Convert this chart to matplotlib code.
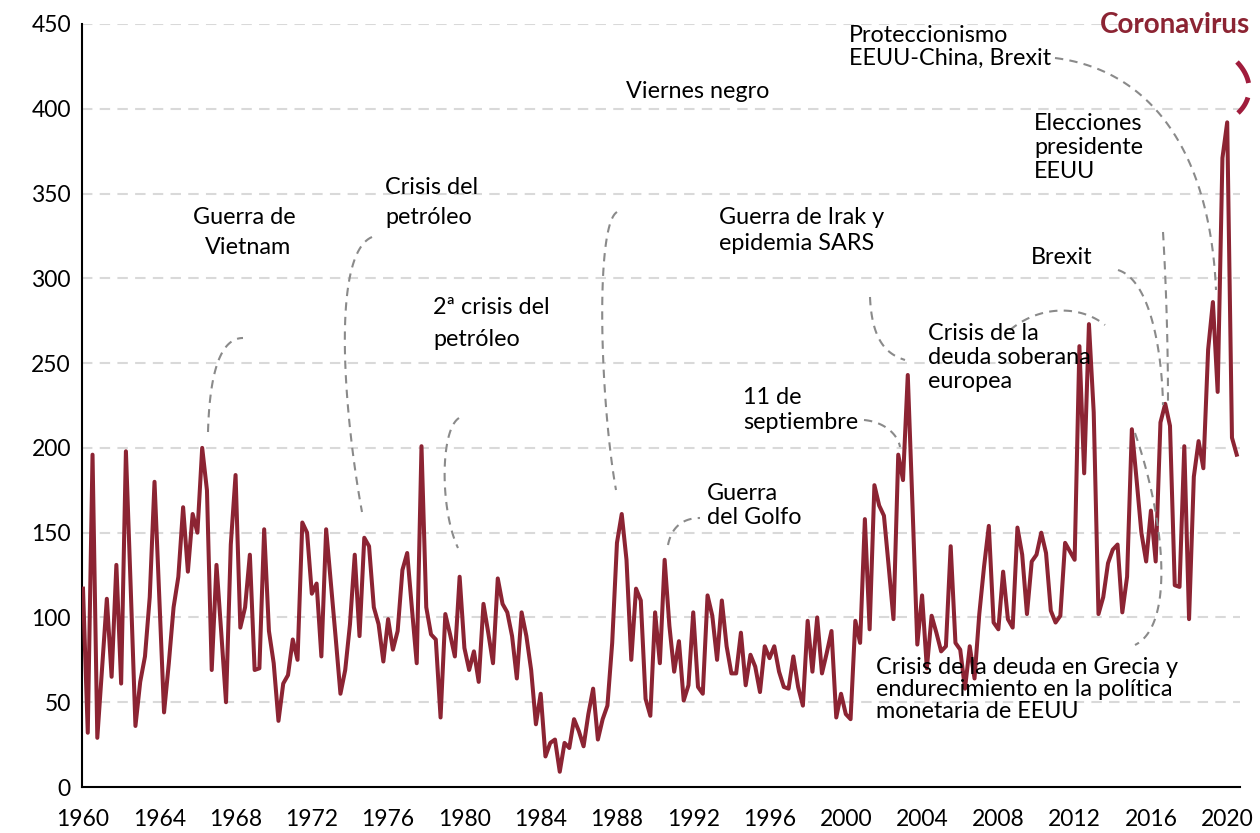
import numpy as np
import matplotlib.pyplot as plt
from matplotlib.lines import Line2D

# quarterly index values, 1960Q1 .. 2020Q3
values = [
    117, 32, 196, 29, 70, 111, 65, 131, 61, 198, 118, 36, 62, 77, 112, 180,
    112, 44, 73, 106, 124, 165, 127, 161, 150, 200, 175, 69, 131, 91, 50, 143,
    184, 94, 106, 137, 69, 70, 152, 92, 73, 39, 61, 66, 87, 75, 156, 150,
    114, 120, 77, 152, 120, 88, 55, 69, 96, 137, 89, 147, 142, 106, 96, 74,
    99, 81, 92, 128, 138, 105, 73, 201, 106, 90, 87, 41, 102, 90, 77, 124,
    82, 69, 80, 62, 108, 91, 73, 123, 108, 103, 89, 64, 103, 89, 69, 37,
    55, 18, 26, 28, 9, 26, 23, 40, 33, 24, 43, 58, 28, 40, 48, 85,
    144, 161, 134, 75, 117, 110, 52, 42, 103, 73, 134, 95, 68, 86, 51, 60,
    103, 59, 55, 113, 101, 75, 110, 83, 67, 67, 91, 60, 78, 71, 56, 83,
    76, 83, 68, 59, 58, 77, 59, 48, 98, 68, 100, 67, 79, 92, 41, 55,
    43, 40, 98, 85, 158, 93, 178, 166, 160, 130, 99, 196, 181, 243, 165, 84,
    113, 70, 101, 91, 80, 83, 142, 85, 81, 58, 83, 64, 102, 130, 154, 97,
    93, 127, 99, 94, 153, 137, 102, 133, 137, 150, 138, 104, 97, 101, 144, 139,
    134, 260, 185, 273, 221, 102, 112, 132, 140, 143, 103, 124, 211, 181, 150, 133,
    163, 133, 215, 226, 213, 119, 118, 201, 99, 183, 204, 188, 258, 286, 233, 371,
    392, 206, 196,
]
years = 1960 + np.arange(len(values)) / 4

y_ticks = list(range(0, 451, 50))
x_ticks = list(range(1960, 2021, 4))

# annotation text lines: (text, left px, centre y px)
labels = [
    ("Guerra de", 193, 218), ("Vietnam", 205, 248),
    ("Crisis del", 385, 188), ("petróleo", 385, 217),
    ("2ª crisis del", 433, 307), ("petróleo", 433, 340),
    ("Viernes negro", 626, 92),
    ("Guerra", 707, 493), ("del Golfo", 707, 517),
    ("Guerra de Irak y", 719, 217), ("epidemia SARS", 719, 243),
    ("11 de", 743, 397), ("septiembre", 743, 422),
    ("Crisis de la", 928, 333), ("deuda soberana", 928, 357), ("europea", 928, 381),
    ("Brexit", 1031, 257),
    ("Elecciones", 1034, 124), ("presidente", 1034, 147), ("EEUU", 1034, 171),
    ("Crisis de la deuda en Grecia y", 876, 668),
    ("endurecimiento en la política", 876, 690),
    ("monetaria de EEUU", 876, 712),
    ("Proteccionismo", 849, 35), ("EEUU-China, Brexit", 849, 58),
]

# connector curves (cubic bezier control points in px)
connectors = [
    [(208, 432), (210, 360), (225, 338), (243, 338)],
    [(372, 237), (330, 255), (345, 420), (362, 512)],
    [(459, 418), (440, 430), (440, 510), (458, 548)],
    [(617, 212), (595, 225), (600, 400), (616, 490)],
    [(668, 545), (672, 525), (685, 518), (700, 518)],
    [(870, 297), (872, 345), (890, 355), (905, 360)],
    [(864, 420), (885, 422), (898, 435), (900, 447)],
    [(1010, 330), (1040, 305), (1080, 305), (1105, 325)],
    [(1118, 270), (1150, 280), (1162, 350), (1163, 405)],
    [(1163, 232), (1167, 300), (1168, 360), (1168, 405)],
    [(1135, 433), (1165, 520), (1175, 625), (1135, 645)],
    [(1055, 58), (1150, 70), (1210, 150), (1216, 290)],
]

W, H = 1260, 833
line_col = "#8c2433"
plt.rcParams["font.family"] = ["Lato", "DejaVu Sans"]

fig = plt.figure(figsize=(12.6, 8.33), dpi=100)
ax = fig.add_axes([82 / W, 1 - 787 / H, (1240 - 82) / W, (787 - 24) / H])

for t in y_ticks[1:]:
    ax.axhline(t, color="#d9d9d9", lw=1.5, ls=(0, (5, 3.5)), zorder=1)
ax.plot(years, values, color=line_col, lw=2.9, zorder=3, solid_joinstyle="round")

ax.set_xlim(1960 - 1 / 19.07, 1960 + (1240 - 83) / 19.07)
ax.set_ylim(0, 450)
ax.set_xticks(x_ticks)
ax.set_yticks(y_ticks)
ax.tick_params(length=0, labelsize=16.5, pad=8)
ax.tick_params(axis="x", pad=16)
for s in ["top", "right"]:
    ax.spines[s].set_visible(False)
ax.spines["left"].set_linewidth(1.5)
ax.spines["bottom"].set_linewidth(1.5)


def px(x, y):
    return x / W, 1 - y / H


def bezier(pts, n=60):
    p = np.array(pts, dtype=float)
    t = np.linspace(0, 1, n)[:, None]
    return ((1 - t) ** 3 * p[0] + 3 * (1 - t) ** 2 * t * p[1]
            + 3 * (1 - t) * t ** 2 * p[2] + t ** 3 * p[3])


for pts in connectors:
    c = bezier(pts)
    fig.add_artist(Line2D(c[:, 0] / W, 1 - c[:, 1] / H, color="#8a8a8a",
                          lw=1.5, ls=(0, (4, 3))))

for txt, x, y in labels:
    fx, fy = px(x, y)
    fig.text(fx, fy, txt, fontsize=16.8, ha="left", va="center", color="black")

fx, fy = px(1250, 25)
fig.text(fx, fy, "Coronavirus", fontsize=20, fontweight="bold", ha="right",
         va="center", color="#8c2433")
c = bezier([(1237, 62), (1254, 80), (1252, 100), (1238, 113)])
fig.add_artist(Line2D(c[:, 0] / W, 1 - c[:, 1] / H, color="#a01c3c",
                      lw=3.5, ls=(0, (5, 3))))

fig.savefig("out.png", dpi=100)
